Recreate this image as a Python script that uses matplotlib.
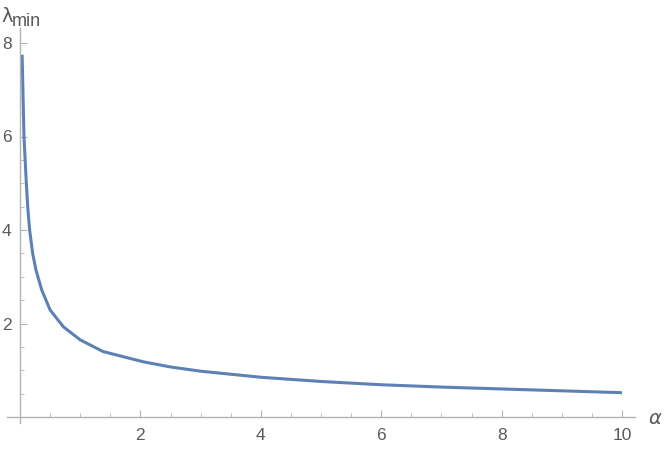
import matplotlib
matplotlib.use("Agg")
import matplotlib.pyplot as plt
from matplotlib.ticker import MultipleLocator

alpha = [0.035, 0.05, 0.066, 0.105, 0.128, 0.16, 0.21, 0.266, 0.36, 0.5, 0.72,
         1.0, 1.38, 2.05, 2.5, 3.0, 4.0, 5.0, 6.0, 7.0, 8.0, 9.0, 10.0]
lam_min = [7.75, 6.9, 6.0, 5.0, 4.5, 4.0, 3.5, 3.14, 2.72, 2.29, 1.93,
           1.65, 1.40, 1.18, 1.07, 0.98, 0.85, 0.76, 0.69, 0.64, 0.6, 0.56, 0.52]
xticks = [2, 4, 6, 8, 10]
yticks = [2, 4, 6, 8]

plt.rcParams['font.family'] = ['Liberation Sans', 'DejaVu Sans']

fig = plt.figure(figsize=(6.64, 4.5), dpi=100)
ax = fig.add_axes([7/664, 27/450, 628/664, 395/450])

axc = '#b3b3b3'
lc = '#5a5a5a'

ax.plot(alpha, lam_min, color='#5E81B5', lw=2.2, solid_capstyle='butt',
        solid_joinstyle='round')

ax.set_xlim((7-20)/60.2, (635-20)/60.2)
ax.set_ylim((417-423)/46.75, (417-28)/46.75)

for s in ['top', 'right']:
    ax.spines[s].set_visible(False)
ax.spines['left'].set_position(('data', 0))
ax.spines['bottom'].set_position(('data', 0))
ax.spines['left'].set_color(axc)
ax.spines['bottom'].set_color(axc)
ax.spines['left'].set_linewidth(1.0)
ax.spines['bottom'].set_linewidth(1.0)

ax.set_xticks(xticks)
ax.set_yticks(yticks)
ax.xaxis.set_minor_locator(MultipleLocator(0.5))
ax.yaxis.set_minor_locator(MultipleLocator(0.5))
ax.tick_params(which='major', direction='in', length=5, width=0.8, color=axc,
               labelcolor=lc, labelsize=12.5)
ax.tick_params(which='minor', direction='in', length=3, width=0.6, color=axc)
ax.tick_params(axis='x', which='major', pad=8)
ax.tick_params(axis='y', which='major', pad=6)

fig.text(1/664, 1 - 17/450, 'λ', fontsize=14, color=lc, va='center', ha='left',
         family=['DejaVu Sans'])
fig.text(12/664, 1 - 21/450, 'min', fontsize=13, color=lc, va='center', ha='left')
fig.text(648/664, 1 - 418/450, 'α', fontsize=14, color=lc, va='center', ha='left',
         style='italic', family=['DejaVu Sans'])

fig.savefig('out.png', dpi=100)
